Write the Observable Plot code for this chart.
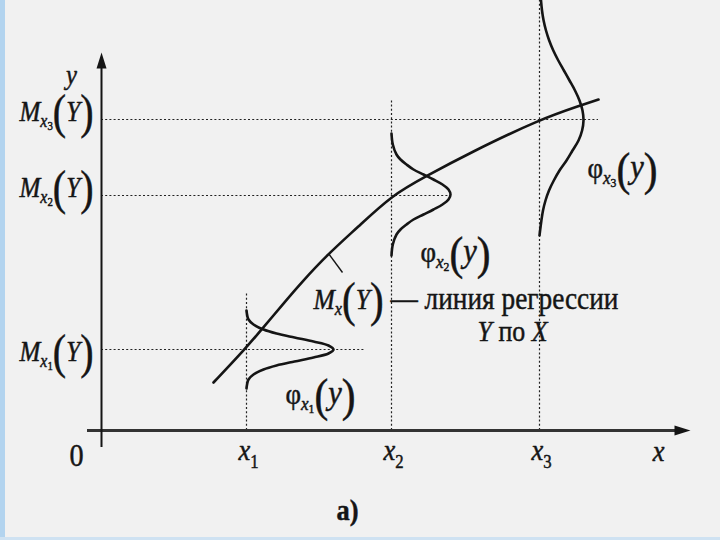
<!DOCTYPE html>
<html><head><meta charset="utf-8">
<script src="https://cdn.jsdelivr.net/npm/d3@7"></script>
<script src="https://cdn.jsdelivr.net/npm/@observablehq/plot@0.6"></script>
<style>
html,body{margin:0;padding:0;background:#f1f1f1;}
#wrap{position:relative;width:720px;height:540px;overflow:hidden;background:#f1f1f1;}
#wrap:before{content:"";position:absolute;left:0;top:0;width:5px;height:540px;background:#b3d4ef;z-index:2}
#wrap:after{content:"";position:absolute;left:0;bottom:0;width:720px;height:3px;background:#cfe2f2;z-index:2}
svg{display:block}
svg text{white-space:pre}
</style></head><body><div id="wrap"></div>
<script>
// ---- data (diagram units: axes origin at 0,0) ----
const xSub = ["1", "2", "3"];                 // x1, x2, x3
const xPos = [14.5, 29.0, 43.8];              // positions of x1, x2, x3
const condMean = [8.1, 23.5, 31.1];           // M_x1(Y), M_x2(Y), M_x3(Y)
const hDashEnd = [26.4, 34.9, 49.7];          // right end of horizontal guide lines
const vDashTop = [13.7, 33.0, 43.5];          // top of vertical guide lines
// regression line M_x(Y)
const regX = [11.2, 14.4, 16.1, 18.2, 19.9, 22.7, 25.6, 29.0, 32.4, 36.9, 43.8, 47.9, 49.7];
const regY = [4.8, 8.2, 10.2, 12.7, 14.7, 17.7, 20.3, 23.5, 25.4, 27.8, 31.1, 32.5, 33.1];
// conditional densities phi_x(y): y value and horizontal height
const phi1Y = [12.0, 11.1, 10.6, 10.1, 9.7, 9.3, 8.9, 8.5, 8.1, 7.7, 7.3, 6.9, 6.5, 6.1, 5.6, 5.1, 4.2];
const phi1W = [0, 0.2, 0.7, 1.7, 3.0, 4.8, 6.7, 8.2, 8.7, 8.2, 6.7, 4.8, 3.0, 1.7, 0.7, 0.2, 0];
const phi2Y = [29.7, 28.6, 27.6, 27.1, 26.6, 26.1, 25.6, 25.1, 24.6, 24.1, 23.6, 23.1, 22.6, 22.1, 21.6, 21.1, 20.6, 20.1, 19.6, 18.6, 17.5];
const phi2W = [0, 0.13, 0.5, 0.9, 1.5, 2.2, 3.2, 4.2, 5.1, 5.7, 5.9, 5.7, 5.1, 4.2, 3.2, 2.2, 1.5, 0.9, 0.5, 0.13, 0];
const phi3Y = [43.5, 42.0, 41.0, 40.0, 39.0, 38.0, 37.0, 36.0, 35.0, 34.0, 33.0, 32.0, 31.0, 30.0, 29.0, 28.0, 27.0, 26.0, 25.0, 24.0, 23.0, 22.0, 21.0, 19.5];
const phi3W = [0.11, 0.25, 0.41, 0.65, 0.97, 1.38, 1.88, 2.44, 3.0, 3.55, 4.0, 4.3, 4.4, 4.26, 3.9, 3.3, 2.7, 2.0, 1.43, 0.95, 0.6, 0.35, 0.19, 0];
// pointer from curve to its label
const pointer = [{x1: 22.7, y1: 17.7, x2: 24.1, y2: 15.8}];

// ---- labels (rich text pieces: text, size, style, baseline shift px) ----
const rich = {};
const labels = [];
function addLabel(key, x, y, anchor, pieces, w) { rich[key] = {pieces, w}; labels.push({key, x, y, anchor}); }
addLabel("lbl_y", -3.0, 34.7, "middle", [["y", 28, "i", 0]]);
addLabel("lbl_0", -2.5, -3.5, "middle", [["0", 32, "", 0]]);
addLabel("lbl_x", 55.7, -3.0, "middle", [["x", 30, "i", 0]]);
addLabel("lbl_a", 24.6, -8.9, "middle", [["а)", 30, "b", 0]]);
const mBase = [7.0, 23.4, 31.0];
xSub.forEach((k, i) => {
  addLabel("lbl_M" + k, -0.8, mBase[i], "end",
    [["M", 30, "i", 0], ["x", 19, "i", 6], [k, 13, "", 9], ["(", 48, "", 7], ["Y", 30, "i", 0], [")", 48, "", 7]], 74);
  addLabel("lbl_xt" + k, xPos[i] - 0.8, -2.9, "start", [["x", 30, "i", 0], [k, 19, "", 8]]);
});
const phiPos = [[18.4, 2.7], [31.9, 16.9], [48.6, 25.3]];
xSub.forEach((k, i) => {
  addLabel("lbl_phi" + k, phiPos[i][0], phiPos[i][1], "start",
    [["φ", 30, "", 0], ["x", 19, "i", 6], [k, 13, "", 9], ["(", 46, "", 7], ["y", 34, "i", 0], [")", 46, "", 7]], 70);
});
addLabel("lbl_reg", 21.2, 12.2, "start",
  [["M", 30, "i", 0], ["x", 19, "i", 6], ["(", 48, "", 7], ["Y", 30, "i", 0], [")", 48, "", 7], [" — линия регрессии", 32, "", 0]], 305);
addLabel("lbl_reg2", 37.6, 9.0, "start", [["Y", 30, "i", 0], [" по ", 30, "", 0], ["X", 30, "i", 0]], 70);

// arrowhead symbols (tip at the point)
const arrowUp = {draw(c) { c.moveTo(0, 0); c.lineTo(5, 16); c.lineTo(-5, 16); c.closePath(); }};
const arrowRight = {draw(c) { c.moveTo(0, 0); c.lineTo(-16, 5); c.lineTo(-16, -5); c.closePath(); }};

const ink = "#151515";
const dash = {stroke: "#222", strokeWidth: 1.2, strokeDasharray: "2,2.2"};
const toPts = (ys, ws, i) => ys.map((y, j) => ({x: xPos[i] + ws[j], y}));

const plot = Plot.plot({
  width: 720, height: 540, margin: 0,
  x: {domain: [-10.1, 61.9], range: [0, 720], axis: null},
  y: {domain: [-11, 43], range: [540, 0], axis: null},
  style: {background: "transparent", fontFamily: "'Liberation Serif', 'Times New Roman', serif", color: ink},
  marks: [
    // guide lines
    Plot.ruleY(condMean.map((m, i) => ({m, e: hDashEnd[i]})), {y: "m", x1: 0, x2: "e", ...dash}),
    Plot.ruleX(xPos.map((p, i) => ({p, t: vDashTop[i]})), {x: "p", y1: 0, y2: "t", ...dash}),
    // axes
    Plot.ruleY([0], {x1: -1.4, x2: 58.0, stroke: "#333", strokeWidth: 3}),
    Plot.ruleX([0], {y1: -1.7, y2: 36.5, stroke: ink, strokeWidth: 2}),
    Plot.dot([{x: 58.9, y: 0}], {x: "x", y: "y", symbol: arrowRight, fill: ink, stroke: null, r: 5}),
    Plot.dot([{x: 0, y: 37.8}], {x: "x", y: "y", symbol: arrowUp, fill: ink, stroke: null, r: 5}),
    // regression line
    Plot.line(regX.map((x, i) => ({x, y: regY[i]})), {x: "x", y: "y", curve: "basis", stroke: ink, strokeWidth: 2.6}),
    Plot.link(pointer, {x1: "x1", y1: "y1", x2: "x2", y2: "y2", stroke: ink, strokeWidth: 1.4}),
    // conditional densities
    Plot.line(toPts(phi1Y, phi1W, 0), {x: "x", y: "y", curve: "catmull-rom", stroke: ink, strokeWidth: 2.6}),
    Plot.line(toPts(phi2Y, phi2W, 1), {x: "x", y: "y", curve: "catmull-rom", stroke: ink, strokeWidth: 2.6}),
    Plot.line(toPts(phi3Y, phi3W, 2), {x: "x", y: "y", curve: "catmull-rom", stroke: ink, strokeWidth: 2.6}),
    // text
    ...["start", "middle", "end"].map(a =>
      Plot.text(labels.filter(d => d.anchor === a), {x: "x", y: "y", text: "key", textAnchor: a, lineAnchor: "bottom",
        fill: ink, stroke: ink, strokeWidth: 0.5, fontSize: 30}))
  ]
});
document.getElementById("wrap").appendChild(plot);

const NS = "http://www.w3.org/2000/svg";
d3.select(plot).selectAll("text").each(function () {
  const spec = rich[this.textContent];
  if (!spec) return;
  this.textContent = "";
  let prev = 0;
  for (const [t, size, st, b] of spec.pieces) {
    const ts = document.createElementNS(NS, "tspan");
    ts.textContent = t;
    ts.setAttribute("font-size", size);
    if (st.includes("i")) ts.setAttribute("font-style", "italic");
    if (st.includes("b")) ts.setAttribute("font-weight", "bold");
    if (b !== prev) ts.setAttribute("dy", b - prev);
    prev = b;
    this.appendChild(ts);
  }
  let tr = this.getAttribute("transform") || "";
  const ax = this.getAttribute("x"), ay = this.getAttribute("y");
  if (ax != null || ay != null) {
    tr += ` translate(${+ax || 0},${+ay || 0})`;
    this.removeAttribute("x"); this.removeAttribute("y");
  }
  const s = spec.w ? spec.w / this.getComputedTextLength() : 0.88;
  this.setAttribute("transform", `${tr} scale(${s},1)`);
});
</script></body></html>
